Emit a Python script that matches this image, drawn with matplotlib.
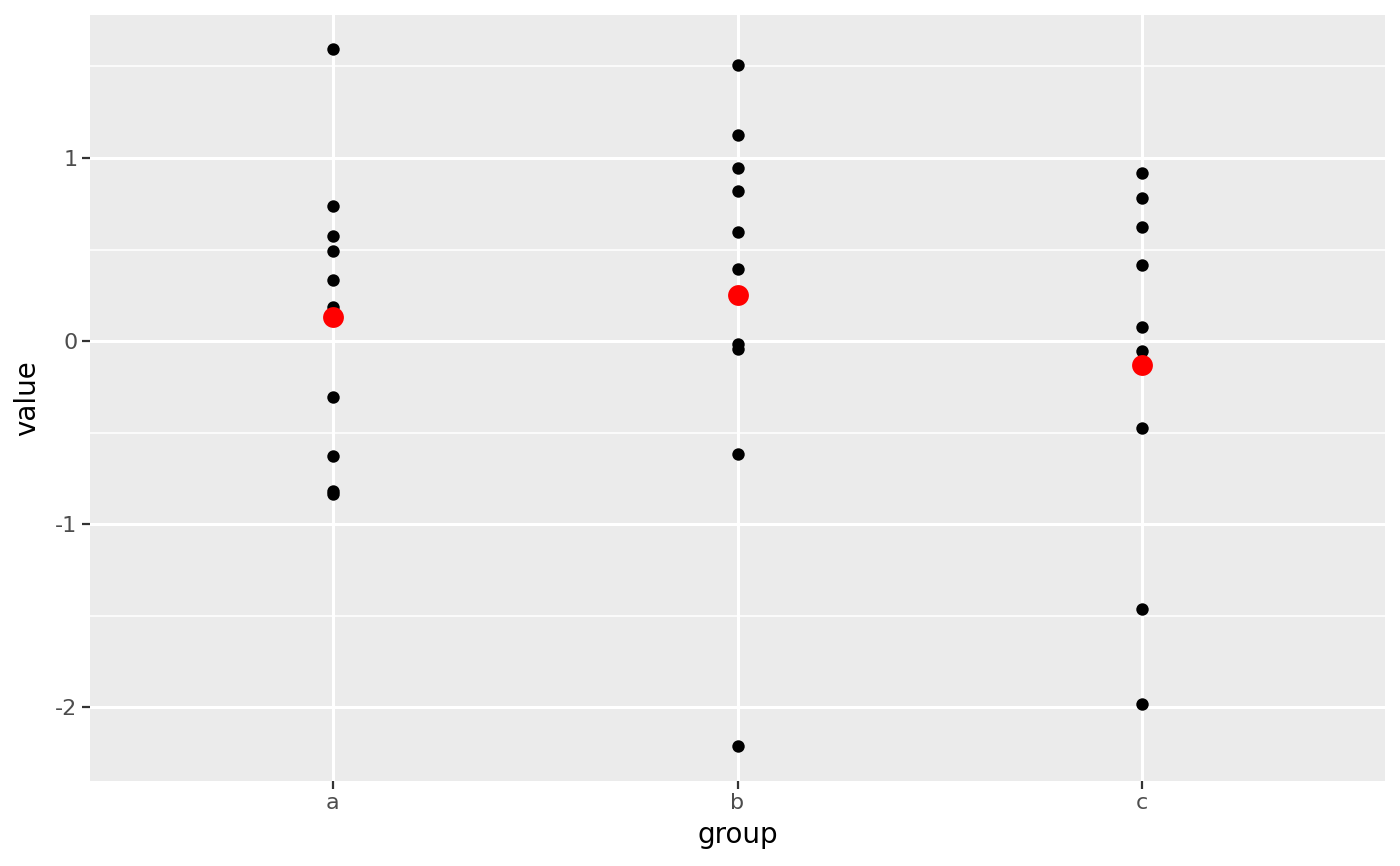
import matplotlib
matplotlib.use("Agg")
import matplotlib.pyplot as plt
from matplotlib.ticker import MultipleLocator
import numpy as np

groups = ["a", "b", "c"]
values_a = [1.596, 0.738, 0.574, 0.492, 0.333, 0.186, -0.306, -0.628, -0.820, -0.836]
values_b = [1.508, 1.126, 0.945, 0.820, 0.596, 0.393, -0.016, -0.044, -0.617, -2.208]
values_c = [0.918, 0.781, 0.623, 0.415, 0.077, -0.055, -0.146, -0.475, -1.464, -1.984]
group_means = [0.133, 0.250, -0.131]
y_ticks = [-2, -1, 0, 1]
y_tick_labels = ["-2", "-1", "0", "1"]

fig = plt.figure(figsize=(14, 8.66), dpi=100)
ax = fig.add_axes([90/1400, (866-780.5)/866, 1295/1400, 765.5/866])
ax.set_facecolor("#EBEBEB")

xpos = np.arange(1, len(groups) + 1)
for x, vals in zip(xpos, [values_a, values_b, values_c]):
    ax.scatter([x] * len(vals), vals, s=80, color="black", zorder=3, linewidths=0)
ax.scatter(xpos, group_means, s=225, color="red", zorder=4, linewidths=0)

ax.set_xlim(0.4, 3.6)
ax.set_ylim(-2.399, 1.781)
ax.set_xticks(xpos)
ax.set_xticklabels(groups)
ax.set_yticks(y_ticks)
ax.set_yticklabels(y_tick_labels)
ax.yaxis.set_minor_locator(MultipleLocator(0.5))
ax.tick_params(axis="y", which="minor", length=0)

ax.grid(which="major", color="white", linewidth=2.2)
ax.grid(which="minor", axis="y", color="white", linewidth=1.1)
ax.set_axisbelow(True)
for sp in ax.spines.values():
    sp.set_visible(False)

ax.tick_params(axis="both", which="major", length=5.5, width=1.6, color="#333333",
               labelcolor="#4D4D4D", labelsize=16, pad=3.5)
ax.set_xlabel("group", fontsize=20, color="black", labelpad=6)
ax.set_ylabel("value", fontsize=20, color="black", labelpad=10)

fig.savefig("out.png", dpi=100, facecolor="white")
